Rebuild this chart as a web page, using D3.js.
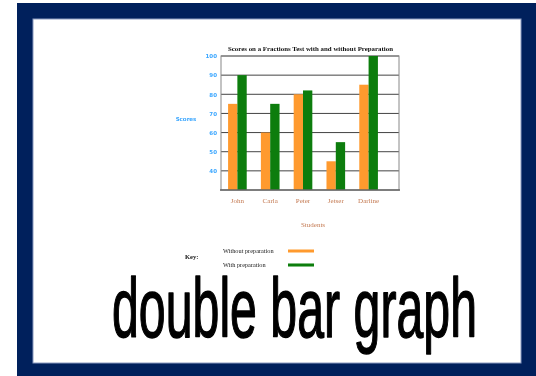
<!DOCTYPE html>
<html>
<head>
<meta charset="utf-8">
<script src="https://cdn.jsdelivr.net/npm/d3@7/dist/d3.min.js"></script>
<style>
  html, body { margin: 0; padding: 0; background: #ffffff; }
  svg { display: block; }
</style>
</head>
<body>
<svg id="chart" width="536" height="376"></svg>
<script>
// Test scores for each student, without and with preparation
const students = ["John", "Carla", "Peter", "Jetser", "Darline"];
const withoutPrep = [75, 60, 80, 45, 85];
const withPrep = [90, 75, 82, 55, 100];
const yTicks = [40, 50, 60, 70, 80, 90, 100];
const seriesNames = ["Without preparation", "With preparation"];
const seriesColors = ["#ff9a2e", "#0a7d0a"];

const svg = d3.select("#chart");

// Navy frame around a white card
svg.append("rect").attr("x", 17).attr("y", 3).attr("width", 519).attr("height", 373)
  .attr("fill", "#00205c");
svg.append("rect").attr("x", 33).attr("y", 19).attr("width", 488).attr("height", 344)
  .attr("fill", "#ffffff").attr("stroke", "#8a9ac0").attr("stroke-width", 1);

const defs = svg.append("defs");
defs.append("filter").attr("id", "soft")
  .append("feGaussianBlur").attr("stdDeviation", 0.45);

const g = svg.append("g").attr("filter", "url(#soft)");

const plot = { left: 221, right: 399, top: 56, bottom: 190 };

const x = d3.scaleBand().domain(students).range([221, 385]).paddingInner(0).paddingOuter(0);
const sub = d3.scaleBand().domain([0, 1]).range([0, x.bandwidth()]).paddingInner(0).paddingOuter(0.76);
const y = d3.scaleLinear().domain([30, 100]).range([plot.bottom, plot.top]);

// Horizontal gridlines
g.append("g").selectAll("line").data(yTicks).join("line")
  .attr("x1", plot.left).attr("x2", plot.right)
  .attr("y1", d => y(d)).attr("y2", d => y(d))
  .attr("stroke", "#444").attr("stroke-width", 1);

// Plot frame
g.append("rect").attr("x", plot.left).attr("y", plot.top)
  .attr("width", plot.right - plot.left).attr("height", plot.bottom - plot.top)
  .attr("fill", "none").attr("stroke", "#888").attr("stroke-width", 1);

// Bars
const rows = students.map((s, i) => ({ s, vals: [withoutPrep[i], withPrep[i]] }));
const groups = g.append("g").selectAll("g").data(rows).join("g")
  .attr("transform", d => `translate(${x(d.s)},0)`);
groups.selectAll("rect").data(d => d.vals.map((v, k) => ({ v, k }))).join("rect")
  .attr("x", d => sub(d.k)).attr("width", sub.bandwidth())
  .attr("y", d => y(d.v)).attr("height", d => y(30) - y(d.v))
  .attr("fill", d => seriesColors[d.k]);

// Axis baseline
g.append("line").attr("x1", plot.left - 1).attr("x2", plot.right + 1)
  .attr("y1", plot.bottom).attr("y2", plot.bottom)
  .attr("stroke", "#666").attr("stroke-width", 1.5);

// Y axis labels
const yAxis = d3.axisLeft(y).tickValues(yTicks).tickSize(0).tickPadding(4);
const ya = g.append("g").attr("transform", `translate(${plot.left},0)`).call(yAxis);
ya.select(".domain").remove();
ya.selectAll("text").attr("fill", "#3aa6ff").attr("font-family", "DejaVu Sans")
  .attr("font-size", 5.5).attr("font-weight", "bold");

g.append("text").attr("x", 186).attr("y", 121).attr("text-anchor", "middle")
  .attr("fill", "#3aa6ff").attr("font-family", "DejaVu Sans").attr("font-size", 5.5)
  .attr("font-weight", "bold").text("Scores");

// X axis labels
const xAxis = d3.axisBottom(x).tickSize(0).tickPadding(8);
const xa = g.append("g").attr("transform", `translate(0,${plot.bottom})`).call(xAxis);
xa.select(".domain").remove();
xa.selectAll("text").attr("fill", "#c47a52").attr("font-family", "Liberation Serif")
  .attr("font-size", 7);

g.append("text").attr("x", 313).attr("y", 227).attr("text-anchor", "middle")
  .attr("fill", "#c47a52").attr("font-family", "Liberation Serif").attr("font-size", 7)
  .text("Students");

// Title
g.append("text").attr("x", 310.5).attr("y", 51).attr("text-anchor", "middle")
  .attr("fill", "#111").attr("font-family", "Liberation Serif").attr("font-size", 6.6)
  .attr("font-weight", "bold").attr("textLength", 165).attr("lengthAdjust", "spacingAndGlyphs")
  .text("Scores on a Fractions Test with and without Preparation");

// Key
g.append("text").attr("x", 185).attr("y", 259).attr("fill", "#111")
  .attr("font-family", "Liberation Serif").attr("font-size", 6.5).attr("font-weight", "bold")
  .text("Key:");
const key = g.append("g").selectAll("g").data(seriesNames).join("g")
  .attr("transform", (d, i) => `translate(0,${251 + i * 14})`);
key.append("text").attr("x", 223).attr("y", 2).attr("fill", "#222")
  .attr("font-family", "Liberation Serif").attr("font-size", 6.3).text(d => d);
key.append("line").attr("x1", 288).attr("x2", 314).attr("y1", 0).attr("y2", 0)
  .attr("stroke", (d, i) => seriesColors[i]).attr("stroke-width", 3);

// Caption
svg.append("text").attr("x", 112).attr("y", 337)
  .attr("fill", "#000").attr("font-family", "Liberation Sans Narrow, Liberation Sans")
  .attr("font-size", 84).attr("font-weight", "normal")
  .attr("stroke", "#000").attr("stroke-width", 1.5).attr("stroke-linejoin", "round")
  .attr("textLength", 365).attr("lengthAdjust", "spacingAndGlyphs")
  .text("double bar graph");
</script>
</body>
</html>
